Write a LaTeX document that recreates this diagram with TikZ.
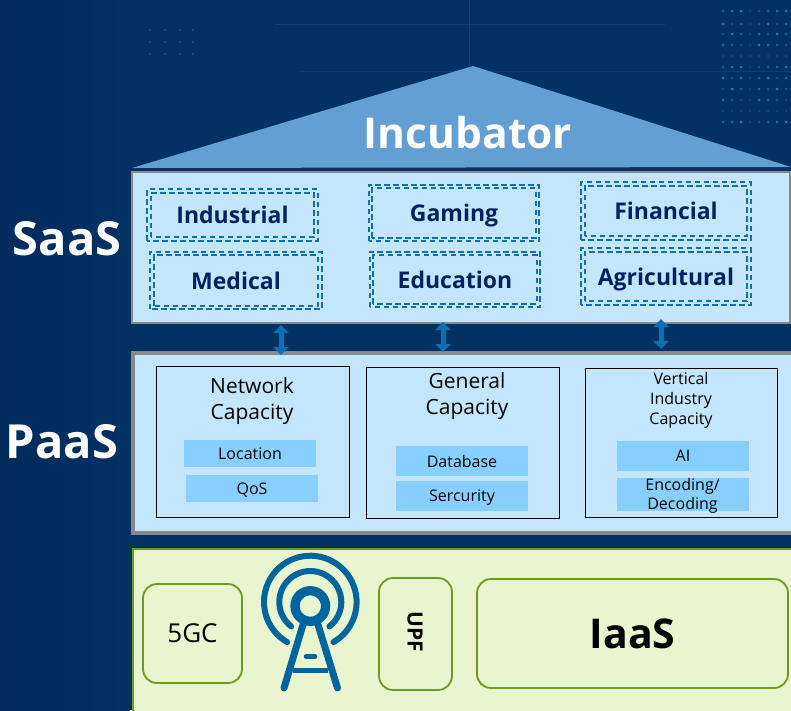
\documentclass[tikz,border=0pt]{standalone}
\usepackage{fontspec}
\setmainfont{Open Sans}
\usetikzlibrary{arrows.meta}
\definecolor{navybg}{HTML}{023164}
\definecolor{navydark}{HTML}{012C5C}
\definecolor{gridblue}{HTML}{1B5A8C}
\definecolor{dotblue}{HTML}{3E9AD4}
\definecolor{roofblue}{HTML}{639FD3}
\definecolor{paleblue}{HTML}{C3E6FD}
\definecolor{chipblue}{HTML}{87CFFE}
\definecolor{framegray}{HTML}{858A8E}
\definecolor{dashblue}{HTML}{146FA6}
\definecolor{inkblue}{HTML}{03215F}
\definecolor{palegreen}{HTML}{E9F5CE}
\definecolor{framegreen}{HTML}{6F9A1F}
\definecolor{towerblue}{HTML}{00659F}
\definecolor{linkblue}{HTML}{0B70B2}
\tikzset{
  layerbox/.style={draw=framegray, fill=paleblue, line width=2pt, inner sep=0pt},
  dashbox/.style={text=inkblue, inner sep=0pt, font=\fontsize{23}{27}\selectfont\bfseries},
  dashline/.style={draw=dashblue, line width=1.8pt, dash pattern=on 5.5pt off 3.5pt},
  capbox/.style={draw=black, line width=1pt, inner sep=0pt},
  chipbox/.style={fill=chipblue, inner sep=0pt, minimum width=132pt, align=center,
    font=\fontsize{16}{20}\selectfont},
  captext/.style={align=center, inner sep=0pt, font=\fontsize{21}{26}\selectfont},
  greenbox/.style={draw=framegreen, line width=1.8pt, rounded corners=14pt, inner sep=0pt},
  sidelabel/.style={text=white, inner sep=0pt, font=\fontsize{47}{52}\selectfont\bfseries},
  linkarrow/.style={{Triangle[length=8pt,width=15pt]}-{Triangle[length=8pt,width=15pt]},
    draw=linkblue, line width=5pt},
  towerline/.style={draw=towerblue, line width=6pt, line cap=round}
}
\newcommand{\dashframe}[1]{%
  \draw [dashline] (#1.south west) rectangle (#1.north east);
  \draw [dashline] ([shift={(3.5, -3.5)}]#1.south west) rectangle ([shift={(-3.5, 3.5)}]#1.north east);
}
\begin{document}
\begin{tikzpicture}[x=1pt, y=-1pt]
  \useasboundingbox (0, 0) rectangle (791, 710);
  \clip (0, 0) rectangle (791, 710);

  % background
  \fill [navybg] (0, 0) rectangle (791, 710);
  \shade [left color=navydark, right color=navybg] (0, 0) rectangle (130, 710);
  \draw [gridblue, opacity=0.45] (275, 24) -- (665, 24);
  \draw [gridblue, opacity=0.45] (469, 0) -- (469, 66);
  \draw [gridblue, opacity=0.35] (300, 71) -- (791, 71);
  \foreach \xx [count=\ii] in {723, 732, ..., 790}
    \foreach \yy [count=\jj] in {11, 24, 34, 45, 56, 67, 78, 89, 100, 111, 122}
      \fill [dotblue, opacity={0.2+0.12*mod(\ii*\jj+\jj,5)}] (\xx, \yy) circle (1.5pt);
  \foreach \xx in {150, 165, 180, 193}
    \foreach \yy in {30, 42, 54}
      \fill [dotblue, opacity=0.3] (\xx, \yy) circle (1.3pt);

  % roof
  \fill [roofblue] (132, 168) -- (473, 66) -- (791, 167) -- cycle;
  \node (incubator) [text=white, inner sep=0pt, font=\fontsize{42.5}{48}\selectfont\bfseries] at (468, 133) {Incubator};

  % layers
  \node (saas) [layerbox, minimum width=658pt, minimum height=151pt] at (461, 247.5) {};
  \node (paas) [layerbox, line width=4.5pt, minimum width=680pt, minimum height=180pt] at (473, 443) {};
  \node (iaas) [layerbox, draw=framegreen, fill=palegreen, minimum width=680pt, minimum height=170pt] at (473, 634) {};

  \node (saaslabel) [sidelabel] at (67, 239) {SaaS};
  \node (paaslabel) [sidelabel] at (62, 442) {PaaS};

  % applications
  \node (industrial) [dashbox, minimum width=170pt, minimum height=51pt] at (232.5, 215) {Industrial};
  \node (medical) [dashbox, minimum width=171pt, minimum height=57pt] at (236, 280.5) {Medical};
  \node (gaming) [dashbox, minimum width=170pt, minimum height=56pt, text depth=0pt] at (454, 213) {Gaming};
  \node (education) [dashbox, minimum width=170pt, minimum height=55pt] at (455, 279.5) {Education};
  \node (financial) [dashbox, minimum width=169pt, minimum height=57pt] at (666, 211) {Financial};
  \node (agricultural) [dashbox, minimum width=169pt, minimum height=56pt, text depth=0pt] at (666, 276.5) {Agricultural};
  \foreach \boxname in {industrial, medical, gaming, education, financial, agricultural} {
    \dashframe{\boxname}
  }

  % links
  \coordinate (linkatop) at (281, 325);
  \coordinate (linkabot) at (281, 355);
  \coordinate (linkbtop) at (443, 322);
  \coordinate (linkbbot) at (443, 352);
  \coordinate (linkctop) at (661, 319);
  \coordinate (linkcbot) at (661, 349);
  \draw [linkarrow] (linkatop) -- (linkabot);
  \draw [linkarrow] (linkbtop) -- (linkbbot);
  \draw [linkarrow] (linkctop) -- (linkcbot);

  % capacities
  \node (network) [capbox, minimum width=193pt, minimum height=151pt] at (252.5, 441.5) {};
  \node (general) [capbox, minimum width=193pt, minimum height=151pt] at (462.5, 442.5) {};
  \node (vertical) [capbox, minimum width=192pt, minimum height=149pt] at (681, 443) {};
  \node (networktext) [captext] at (252, 401) {Network\\Capacity};
  \node (generaltext) [captext] at (467, 396) {General\\Capacity};
  \node (verticaltext) [captext, font=\fontsize{16}{20}\selectfont] at (681, 400.5) {Vertical\\Industry\\Capacity};
  \node (location) [chipbox, minimum height=27pt] at (250, 453.5) {Location};
  \node (qos) [chipbox, minimum height=27pt, text height=12pt, text depth=0pt] at (252, 488.5) {QoS};
  \node (database) [chipbox, minimum height=30pt] at (462, 461) {Database};
  \node (sercurity) [chipbox, minimum height=30pt, text height=12pt, text depth=1pt] at (462, 496) {Sercurity};
  \node (ai) [chipbox, minimum height=30pt] at (683, 456) {AI};
  \node (encoding) [chipbox, minimum height=33pt] at (682.5, 494.5) {};
  \node (encodingtext) [captext, font=\fontsize{16}{19}\selectfont] at (682.5, 496) {Encoding/\\Decoding};

  % infrastructure
  \node (fivegc) [greenbox, minimum width=99pt, minimum height=99pt, font=\fontsize{26}{30}\selectfont] at (192.5, 633.5) {5GC};
  \node (upf) [greenbox, minimum width=73pt, minimum height=112pt] at (415.5, 634) {};
  \node (upftext) [rotate=-90, inner sep=0pt, font=\fontsize{21}{25}\selectfont\bfseries] at (415, 632) {UPF};
  \node (iaasbox) [greenbox, minimum width=311pt, minimum height=109pt, font=\fontsize{41}{46}\selectfont\bfseries] at (632.5, 633.5) {IaaS};

  % tower
  \draw [towerblue, line width=9.3pt] (310.3, 606) circle (15.3pt);
  \draw [towerline] (310.3, 602) ++(232:31pt) arc [start angle=232, end angle=-52, radius=31pt];
  \draw [towerline] (310.3, 602) ++(240:46.3pt) arc [start angle=240, end angle=-60, radius=46.3pt];
  \draw [towerline, line width=7pt] (303.5, 623) -- (284, 688);
  \draw [towerline, line width=7pt] (317.5, 623) -- (337.5, 688);
  \draw [towerblue, line width=5pt] (293, 670) -- (328, 670);
  \draw [towerline, line width=4.5pt] (306, 656.5) -- (315, 656.5);
\end{tikzpicture}
\end{document}
